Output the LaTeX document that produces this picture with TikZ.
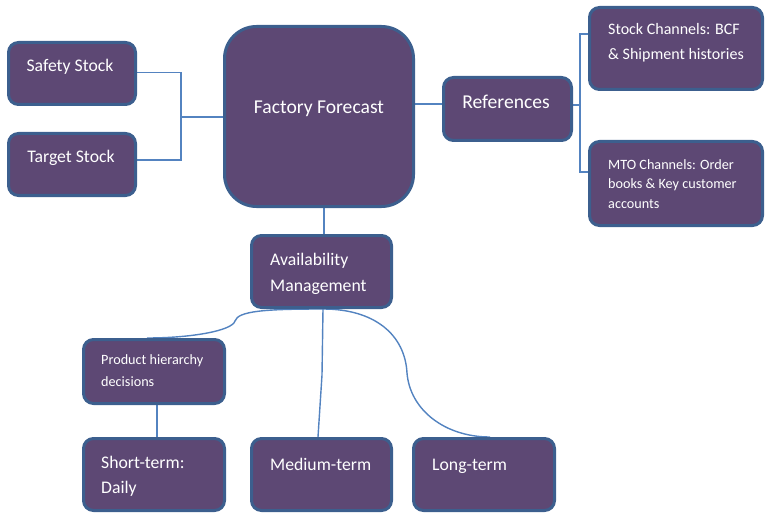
\documentclass[tikz,border=0pt]{standalone}
\usepackage{fontspec}
\setmainfont{Carlito}
\usetikzlibrary{backgrounds,calc}
\definecolor{boxfill}{HTML}{5D4874}
\definecolor{boxline}{HTML}{3C5F8E}
\definecolor{conn}{HTML}{5383C0}
\tikzset{
  box/.style={draw=boxline, fill=boxfill, line width=3pt, rounded corners=10pt, inner sep=0pt},
  bigbox/.style={box, rounded corners=32pt},
  lbl/.style={text=white, inner sep=0pt},
  fa/.style={font=\fontsize{17.7}{26}\selectfont},
  fb/.style={font=\fontsize{19.6}{26}\selectfont},
  fc/.style={font=\fontsize{16}{23}\selectfont},
  fd/.style={font=\fontsize{14.2}{20}\selectfont},
  link/.style={draw=conn, line width=1.4pt},
}
\begin{document}
\begin{tikzpicture}[x=1pt,y=-1pt]
\useasboundingbox (0,0) rectangle (765,513);
% boxes
\node[box, minimum width=127pt, minimum height=62pt] (ss) at (72,73.5) {};
\node[box, minimum width=127pt, minimum height=62pt] (ts) at (72,164.5) {};
\node[bigbox, minimum width=189pt, minimum height=180pt] (ff) at (319,116.5) {};
\node[box, minimum width=128pt, minimum height=63pt] (ref) at (507.5,109) {};
\node[box, minimum width=173pt, minimum height=82pt] (sc) at (676,48.5) {};
\node[box, minimum width=173pt, minimum height=84pt] (mto) at (676,183.5) {};
\node[box, minimum width=140pt, minimum height=72pt] (am) at (321.5,271.5) {};
\node[box, minimum width=141pt, minimum height=64pt] (ph) at (154,371.5) {};
\node[box, minimum width=141pt, minimum height=72pt] (st) at (154,474.5) {};
\node[box, minimum width=140pt, minimum height=72pt] (mt) at (321.5,474.5) {};
\node[box, minimum width=141pt, minimum height=72pt] (lt) at (484,474.5) {};
% texts
\node[lbl, fa, anchor=base] (tss) at (70,71.5) {Safety Stock};
\node[lbl, fa, anchor=base] (tts) at (71,162.7) {Target Stock};
\node[lbl, fb, anchor=base] (tff) at (319,113.3) {Factory Forecast};
\node[lbl, fb, anchor=base] (tref) at (506,108.3) {References};
\node[lbl, fc, anchor=base west] (tsc1) at (608,35) {Stock Channels: BCF};
\node[lbl, fc, anchor=base west] (tsc2) at (608,59.3) {\& Shipment histories};
\node[lbl, fd, anchor=base west] (tmto1) at (608,169.5) {MTO Channels: Order};
\node[lbl, fd, anchor=base west] (tmto2) at (608,189) {books \& Key customer};
\node[lbl, fd, anchor=base west] (tmto3) at (608,208.5) {accounts};
\node[lbl, fa, anchor=base west] (tam1) at (270,265) {Availability};
\node[lbl, fa, anchor=base west] (tam2) at (270,291.7) {Management};
\node[lbl, fd, anchor=base west] (tph1) at (101,364.3) {Product hierarchy};
\node[lbl, fd, anchor=base west] (tph2) at (101,386) {decisions};
\node[lbl, fa, anchor=base west] (tst1) at (101,468.3) {Short-term:};
\node[lbl, fa, anchor=base west] (tst2) at (101,493.3) {Daily};
\node[lbl, fa, anchor=base west] (tmt) at (270,470.7) {Medium-term};
\node[lbl, fa, anchor=base west] (tlt) at (432,470.7) {Long-term};
% connectors
\begin{pgfonlayer}{background}
\coordinate (jl) at (181,117);
\coordinate (jr) at (580,105);
\draw[link] ([yshift=1.2pt]ss.east) -| (jl) |- ([yshift=4.5pt]ts.east);
\draw[link] (jl) -- (jl -| ff.west);
\draw[link] ([yshift=5pt]ref.west) -- ([yshift=5pt]ref.west -| ff.east);
\draw[link] ([yshift=4pt]ref.east) -- (jr);
\draw[link] ([yshift=14.5pt]sc.west) -| (jr) |- ([yshift=11.5pt]mto.west);
\draw[link] ([xshift=5pt]ff.south) -- ([xshift=2.5pt]am.north);
\coordinate (amb) at ([xshift=1.5pt]am.south);
\draw[link] (amb) -- ++(-1,66) -- ([xshift=-3.5pt]mt.north);
\draw[link] (amb) .. controls (265,309) and (238,311) .. (235,321)
  .. controls (232,331) and (190,338) .. ([xshift=-7pt]ph.north);
\draw[link] (amb) .. controls (375,309) and (405,335) .. (407,373)
  .. controls (410,410) and (445,437) .. ([xshift=6pt]lt.north);
\draw[link] ([xshift=3pt]ph.south) -- ([xshift=3pt]st.north);
\end{pgfonlayer}
\end{tikzpicture}
\end{document}
